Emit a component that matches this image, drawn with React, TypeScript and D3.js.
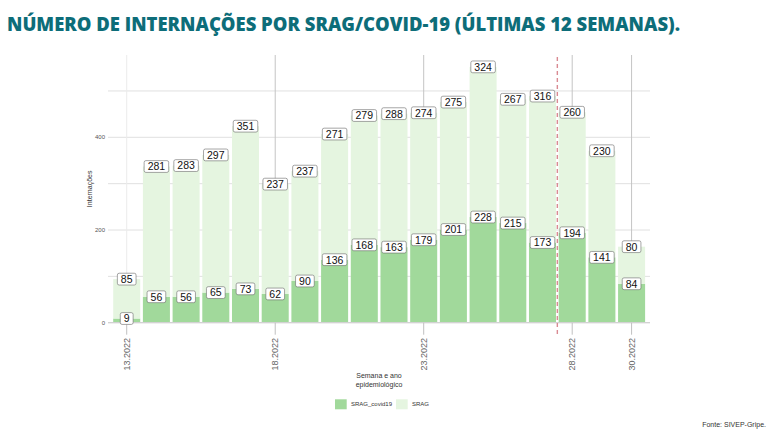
import React from "react";
import * as d3 from "d3";

const weeks = [13, 14, 15, 16, 17, 18, 19, 20, 21, 22, 23, 24, 25, 26, 27, 28, 29, 30];
const sragCovid = [9, 56, 56, 65, 73, 62, 90, 136, 168, 163, 179, 201, 228, 215, 173, 194, 141, 84];
const srag = [85, 281, 283, 297, 351, 237, 237, 271, 279, 288, 274, 275, 324, 267, 316, 260, 230, 80];
const xTicks = [13, 18, 23, 28, 30];
const xTickLabels = ["13.2022", "18.2022", "23.2022", "28.2022", "30.2022"];
const yTicks = [0, 200, 400];
const yMinor = [100, 300, 500];
const cutWeek = 27.5;
const seriesKeys = ["SRAG_covid19", "SRAG"];

const W = 775;
const H = 435;
const colors: Record<string, string> = { SRAG_covid19: "#a1d99b", SRAG: "#e5f5e0" };

export default function App() {
  const x = d3.scaleLinear().domain([12.37, 30.62]).range([108, 650]);
  const y = d3.scaleLinear().domain([0, 577.6]).range([322.7, 55]);
  const step = x(14) - x(13);
  const bw = step * 0.91;

  const rows = weeks.map((w, i) => ({ week: w, SRAG_covid19: sragCovid[i], SRAG: srag[i] }));
  const stacked = d3.stack<any>().keys(seriesKeys)(rows);

  const labelW = (s: string) => s.length * 5.85 + 7;
  const labelH = 11.8;

  return (
    <svg
      width={W}
      height={H}
      style={{ position: "absolute", left: 0, top: 0, background: "#fff" }}
      fontFamily="'Liberation Sans', Arial, sans-serif"
    >
      <text
        x={7}
        y={31}
        fontSize={18.5}
        fontWeight={800}
        fill="#0d6d79"
        fontFamily="'Open Sans', 'Liberation Sans', sans-serif"
        textLength={673}
        lengthAdjust="spacingAndGlyphs"
      >
        NÚMERO DE INTERNAÇÕES POR SRAG/COVID-19 (ÚLTIMAS 12 SEMANAS).
      </text>

      {/* grid */}
      {[...yTicks, ...yMinor].map((t) => (
        <line key={"h" + t} x1={108} x2={650} y1={y(t)} y2={y(t)} stroke="#e0e0e0" strokeWidth={1} />
      ))}
      {xTicks.map((t, i) => (
        <line
          key={"v" + t}
          x1={x(t)}
          x2={x(t)}
          y1={55}
          y2={y(0)}
          stroke={i === 0 ? "#ebebeb" : "#c4c4c4"}
          strokeWidth={1}
        />
      ))}

      {/* bars */}
      {stacked.map((layer) => (
        <g key={layer.key} fill={colors[layer.key]}>
          {layer.map((d: any, i: number) => (
            <rect
              key={i}
              x={x(d.data.week) - bw / 2}
              width={bw}
              y={y(d[1])}
              height={y(d[0]) - y(d[1])}
            />
          ))}
        </g>
      ))}

      {/* x axis line and ticks */}
      <line x1={108} x2={650} y1={y(0)} y2={y(0)} stroke="#d2d2d2" strokeWidth={1.2} />
      {xTicks.map((t) => (
        <line key={"t" + t} x1={x(t)} x2={x(t)} y1={y(0)} y2={y(0) + 12} stroke="#c0c0c0" strokeWidth={1} />
      ))}

      {/* dashed cutoff */}
      <line
        x1={x(cutWeek)}
        x2={x(cutWeek)}
        y1={57}
        y2={335}
        stroke="#d98a92"
        strokeWidth={1.4}
        strokeDasharray="4,3"
      />

      {/* labels */}
      {stacked.map((layer) => (
        <g key={"l" + layer.key}>
          {layer.map((d: any, i: number) => {
            const v = String(layer.key === "SRAG" ? srag[i] : sragCovid[i]);
            const cx = x(d.data.week);
            const cy = y(d[1]);
            const lw = labelW(v);
            return (
              <g key={i}>
                <rect
                  x={cx - lw / 2}
                  y={cy - labelH / 2}
                  width={lw}
                  height={labelH}
                  rx={1.8}
                  fill="#fff"
                  stroke="#6a6a6a"
                  strokeWidth={0.6}
                />
                <text x={cx} y={cy + 3.9} fontSize={10.5} textAnchor="middle" fill="#111">
                  {v}
                </text>
              </g>
            );
          })}
        </g>
      ))}

      {/* y axis labels */}
      {yTicks.map((t) => (
        <text key={"yl" + t} x={105} y={y(t) + 2} fontSize={6} textAnchor="end" fill="#555">
          {t}
        </text>
      ))}
      <text
        transform={`translate(91.5,${(55 + 322.7) / 2}) rotate(-90)`}
        fontSize={7}
        textAnchor="middle"
        fill="#333"
      >
        Internações
      </text>

      {/* x tick labels */}
      {xTicks.map((t, i) => (
        <text
          key={"xl" + t}
          transform={`translate(${x(t) + 3},338) rotate(-90)`}
          fontSize={9}
          textAnchor="end"
          fill="#666"
        >
          {xTickLabels[i]}
        </text>
      ))}

      {/* x axis title */}
      <text x={379} y={378} fontSize={7} textAnchor="middle" fill="#333">
        Semana e ano
      </text>
      <text x={379} y={386.5} fontSize={7} textAnchor="middle" fill="#333">
        epidemiológico
      </text>

      {/* legend */}
      {seriesKeys.map((k, i) => {
        const lx = i === 0 ? 335 : 396;
        return (
          <g key={"lg" + k}>
            <rect x={lx} y={399.3} width={11.7} height={10} fill={colors[k]} />
            <text x={lx + 16} y={406.3} fontSize={6} fill="#333">
              {k}
            </text>
          </g>
        );
      })}

      <text x={766} y={427} fontSize={7} textAnchor="end" fill="#333">
        Fonte: SIVEP-Gripe.
      </text>
    </svg>
  );
}
